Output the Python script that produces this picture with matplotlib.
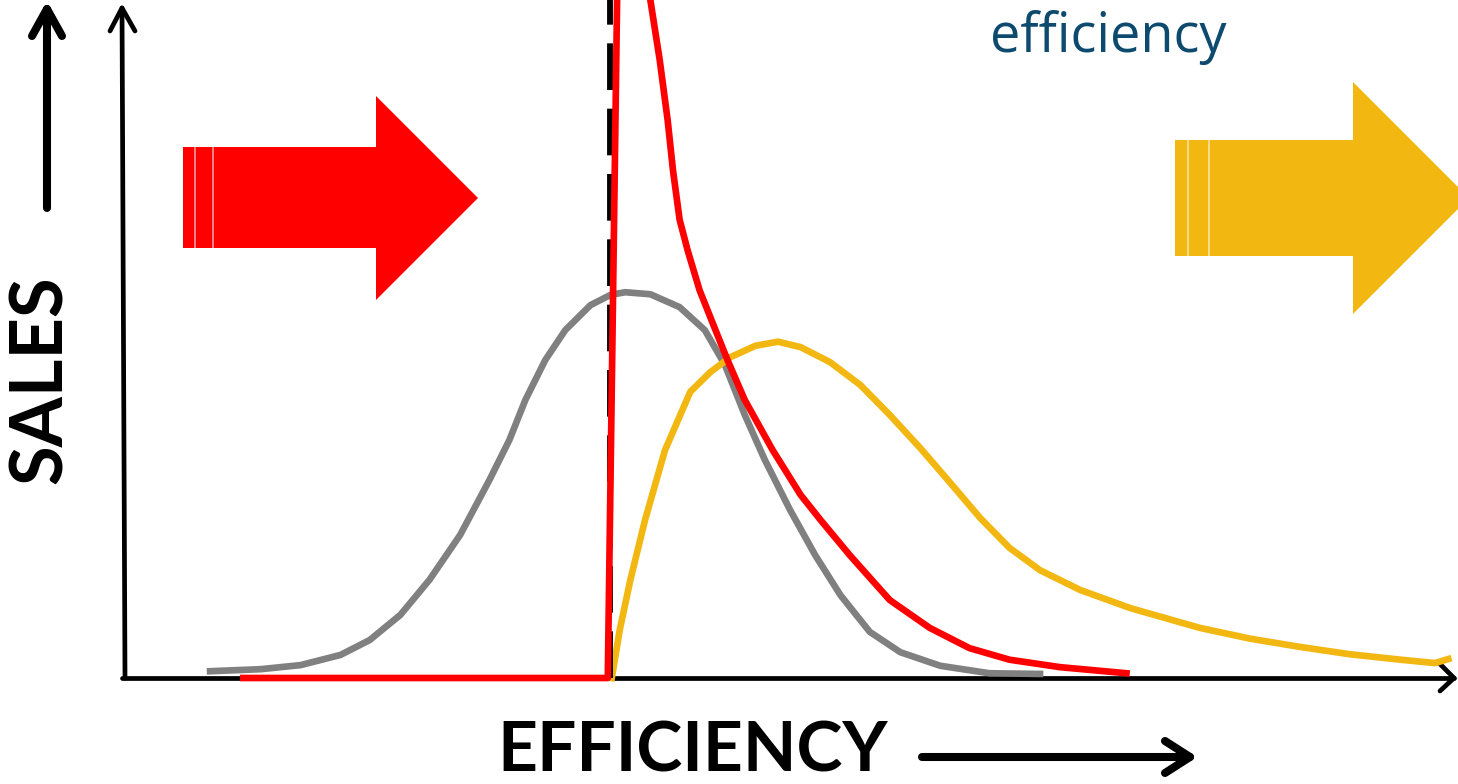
import matplotlib
matplotlib.use("Agg")
import matplotlib.pyplot as plt
from matplotlib.patches import Polygon

# ---- data (efficiency units on x, sales units on y) ----
gray_x = [6.4, 10.2, 13.2, 16.2, 18.4, 20.7, 22.9, 25.2, 27.4, 28.9, 30.1, 31.6, 33.1, 35.0, 36.5,
          37.6, 39.5, 41.7, 43.6, 45.1, 46.6, 48.1, 50.0, 51.9, 53.8, 56.0, 58.3, 61.3, 65.0, 68.8]
gray_y = [1.0, 1.3, 1.9, 3.4, 5.6, 9.3, 14.5, 21.1, 29.2, 35.1, 41.0, 46.9, 51.3, 55.0, 56.5,
          56.9, 56.6, 54.7, 51.3, 46.2, 38.8, 32.2, 24.8, 18.1, 12.2, 6.8, 3.8, 1.8, 0.7, 0.6]

red_x = [8.9, 36.3, 37.0, 37.6, 39.1, 39.5, 40.2, 40.8, 41.2, 41.7, 42.3, 43.2, 44.4, 45.3, 46.6,
         48.7, 50.8, 52.3, 54.5, 57.5, 60.5, 63.5, 66.5, 70.3, 75.3]
red_y = [0.0, 0.0, 100.0, 112.0, 112.0, 100.0, 91.2, 82.3, 74.9, 67.6, 63.1, 57.2, 51.3, 46.9, 41.0,
         33.6, 27.0, 23.3, 18.1, 11.5, 7.4, 4.4, 2.7, 1.6, 0.7]

yellow_x = [36.6, 37.2, 38.0, 39.1, 40.6, 42.5, 44.0, 45.5, 47.4, 49.1, 50.8, 53.0, 55.3, 57.5,
            59.8, 62.0, 64.3, 66.5, 68.8, 71.8, 75.6, 80.8, 84.6, 88.3, 92.1, 95.9, 98.5, 99.5]
yellow_y = [0.0, 7.1, 14.5, 23.3, 33.6, 42.2, 45.1, 47.3, 49.0, 49.6, 48.8, 46.6, 43.2, 38.8,
            33.9, 28.9, 23.6, 19.2, 15.9, 13.0, 10.3, 7.4, 5.8, 4.6, 3.5, 2.7, 2.2, 2.8]

threshold_x = 36.5

x_label = "EFFICIENCY"
y_label = "SALES"
note_text = "efficiency"

RED = "#ff0000"
GRAY = "#808080"
YELLOW = "#f2b711"
BLUE = "#0d4a6e"

fig = plt.figure(figsize=(14.58, 7.84), dpi=100)
ax = fig.add_axes([0, 0, 1, 1])
SX, SY = 13.3, 6.78
ax.set_xlim(-125 / SX, 1333 / SX)
ax.set_ylim(-106 / SY, 100)
ax.axis("off")


def P(px, py):
    return ((px - 125) / SX, (678 - py) / SY)


def seg(points, lw, color="black", **kw):
    xs, ys = zip(*[P(*p) for p in points])
    ax.plot(xs, ys, color=color, lw=lw, solid_capstyle="round",
            solid_joinstyle="round", clip_on=False, **kw)


# axes
seg([(125, 678), (122, 8)], 3.4)
seg([(110, 31), (122, 8), (135, 31)], 3.4)
seg([(122, 678), (1454, 678)], 3.4)
seg([(1440, 664), (1454, 678), (1440, 691)], 3.4)

# label arrows
seg([(47, 208), (47, 9)], 5.8)
seg([(32, 36), (47, 9), (62, 36)], 5.8)
seg([(922, 757), (1190, 757)], 5.8)
seg([(1165, 741), (1190, 757), (1165, 773)], 5.8)

# big arrows
def big_arrow(x0, x1, y0, y1, hy0, hy1, tip, color, lines):
    pts = [(x0, y0), (x1, y0), (x1, hy0), tip, (x1, hy1), (x1, y1), (x0, y1)]
    ax.add_patch(Polygon([P(*p) for p in pts], closed=True, fc=color, ec="none", clip_on=True))
    for lx in lines:
        xs, ys = zip(P(lx, y0), P(lx, y1))
        ax.plot(xs, ys, color="white", lw=1.2, alpha=0.6)


big_arrow(183, 376, 147, 248, 96, 300, (478, 198), RED, [195, 213])
big_arrow(1175, 1353, 140, 256, 82, 314, (1469, 198), YELLOW, [1188, 1209])

# curves
ax.plot(gray_x, gray_y, color=GRAY, lw=4.8, solid_joinstyle="round", zorder=3)
ax.plot(yellow_x, yellow_y, color=YELLOW, lw=4.8, solid_joinstyle="round", zorder=3)
ax.plot(red_x, red_y, color=RED, lw=4.8, solid_joinstyle="round", zorder=4)
ax.plot([threshold_x, threshold_x], [0, 100], color="black", lw=4.2,
        ls=(0, (8.0, 3.2)), zorder=3)

# texts
ax.text(*P(41, 380), y_label, rotation=90, ha="center", va="center",
        fontsize=52, fontweight="bold", family="Lato")
ax.text(*P(693, 783), x_label, ha="center", va="bottom",
        fontsize=50, fontweight="bold", family="Lato")
ax.text(*P(990, 52), note_text, ha="left", va="baseline",
        fontsize=39, color=BLUE, family="Open Sans")

fig.savefig("out.png", dpi=100)
